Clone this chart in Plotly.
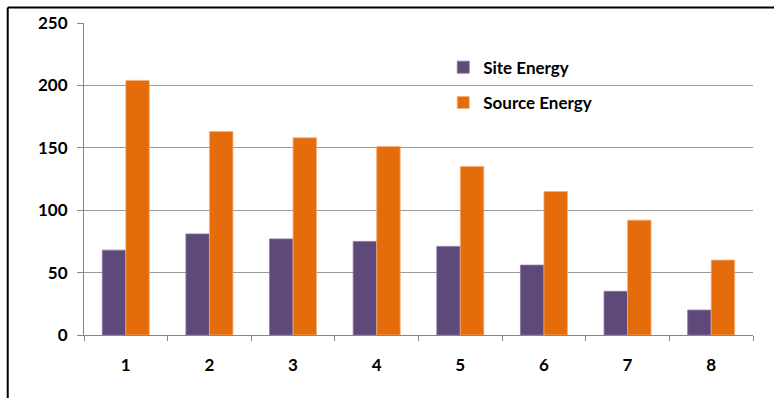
import plotly.graph_objects as go

# Building index (1-8) and energy use intensity for each
categories = ["1", "2", "3", "4", "5", "6", "7", "8"]
site_energy = [68, 81, 77, 75, 71, 56, 35, 20]
source_energy = [204, 163, 158, 151, 135, 115, 92, 60]

y_ticks = [0, 50, 100, 150, 200, 250]

PURPLE = "#5F497A"
ORANGE = "#E46C0A"
AXIS_GRAY = "#868686"
GRID_GRAY = "#9a9a9a"
FONT = "Lato"
FONT_SIZE = 17

fig = go.Figure()
fig.add_trace(go.Bar(
    x=categories, y=site_energy, name="Site Energy",
    marker=dict(color=PURPLE, line=dict(color="#8676a0", width=0.8)),
    legend="legend",
))
fig.add_trace(go.Bar(
    x=categories, y=source_energy, name="Source Energy",
    marker=dict(color=ORANGE, line=dict(color="#f3b07a", width=0.8)),
    legend="legend2",
))

legend_common = dict(
    bgcolor="rgba(0,0,0,0)",
    font=dict(family=FONT, size=FONT_SIZE, color="#000000", weight="bold"),
    xanchor="left", yanchor="middle",
    itemclick=False, itemdoubleclick=False,
)

fig.update_layout(
    width=774, height=398,
    margin=dict(l=84, r=21, t=20, b=63),
    paper_bgcolor="white", plot_bgcolor="white",
    barmode="group", bargap=0.438, bargroupgap=0,
    showlegend=True,
    legend=dict(x=0.537, y=0.857, **legend_common),
    legend2=dict(x=0.537, y=0.744, **legend_common),
    xaxis=dict(
        type="category",
        showline=True, linecolor=AXIS_GRAY, linewidth=1,
        ticks="outside", ticklen=5, tickcolor=AXIS_GRAY,
        tickson="boundaries",
        tickfont=dict(family=FONT, size=FONT_SIZE, color="#000000", weight="bold"),
        ticklabelstandoff=15,
        showgrid=False,
    ),
    yaxis=dict(
        range=[0, 250], tickvals=y_ticks,
        showline=True, linecolor=AXIS_GRAY, linewidth=1,
        ticks="outside", ticklen=6, tickcolor=AXIS_GRAY,
        tickfont=dict(family=FONT, size=FONT_SIZE, color="#000000", weight="bold"),
        ticklabelstandoff=6,
        showgrid=True, gridcolor=GRID_GRAY, gridwidth=1,
        zeroline=False,
    ),
    shapes=[
        # frame: top and left edges of the chart border
        dict(type="line", xref="paper", yref="paper",
             x0=-0.114, x1=1.05, y0=1.05, y1=1.05,
             line=dict(color="black", width=2)),
        dict(type="line", xref="paper", yref="paper",
             x0=-0.114, x1=-0.114, y0=1.05, y1=-0.25,
             line=dict(color="black", width=2)),
    ],
)

fig.write_html("out.html")
